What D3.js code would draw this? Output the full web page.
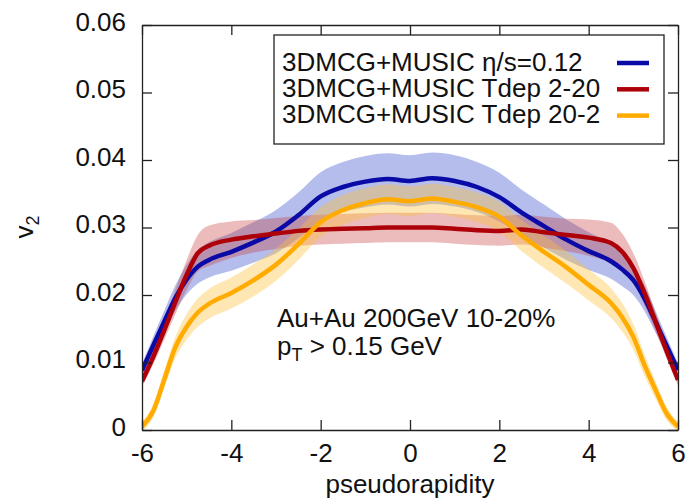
<!DOCTYPE html>
<html>
<head>
<meta charset="utf-8">
<script src="https://cdn.jsdelivr.net/npm/d3@7"></script>
<style>
  html, body { margin: 0; padding: 0; background: #fff; }
  svg { display: block; font-family: "Liberation Sans", Arial, Helvetica, sans-serif; }
</style>
</head>
<body>
<svg id="chart" width="691" height="500"></svg>
<script>
// pseudorapidity grid
const eta = [-6, -5.75, -5.5, -5.25, -5, -4.75, -4.5, -4, -3.5, -3, -2.5, -2, -1.5, -1, -0.5,
             0, 0.5, 1, 1.5, 2, 2.5, 3, 3.5, 4, 4.5, 4.75, 5, 5.25, 5.5, 5.75, 6];

// 3DMCG+MUSIC eta/s=0.12
const v2Const = [0.0088, 0.0125, 0.0161, 0.0196, 0.0223, 0.0242, 0.0252, 0.0264, 0.0278, 0.0294, 0.0318,
                 0.0346, 0.0360, 0.0368, 0.0372, 0.0369, 0.0373, 0.0369, 0.0360, 0.0345, 0.0322, 0.0302,
                 0.0282, 0.0265, 0.0250, 0.0238, 0.0222, 0.0195, 0.0160, 0.0124, 0.0089];
const errConst = [0.0010, 0.0013, 0.0016, 0.0019, 0.0022, 0.0025, 0.0026, 0.0028, 0.0030, 0.0032, 0.0034,
                  0.0036, 0.0037, 0.0038, 0.0038, 0.0038, 0.0038, 0.0038, 0.0037, 0.0036, 0.0034, 0.0032,
                  0.0030, 0.0028, 0.0026, 0.0025, 0.0022, 0.0019, 0.0016, 0.0013, 0.0010];

// 3DMCG+MUSIC Tdep 2-20
const v2Tdep220 = [0.0072, 0.0108, 0.0148, 0.0190, 0.0230, 0.0262, 0.0273, 0.0282, 0.0287, 0.0291, 0.0295,
                   0.0297, 0.0298, 0.0299, 0.0300, 0.0300, 0.0300, 0.0298, 0.0296, 0.0295, 0.0297, 0.0293,
                   0.0289, 0.0285, 0.0277, 0.0264, 0.0240, 0.0203, 0.0160, 0.0116, 0.0074];
const errTdep220 = [0.0008, 0.0011, 0.0014, 0.0018, 0.0022, 0.0027, 0.0030, 0.0027, 0.0024, 0.0023, 0.0022,
                    0.0022, 0.0022, 0.0022, 0.0022, 0.0022, 0.0022, 0.0022, 0.0022, 0.0022, 0.0022, 0.0023,
                    0.0024, 0.0027, 0.0030, 0.0027, 0.0022, 0.0018, 0.0014, 0.0011, 0.0008];

// 3DMCG+MUSIC Tdep 20-2
const v2Tdep202 = [0.0005, 0.0028, 0.0075, 0.0123, 0.0153, 0.0174, 0.0187, 0.0203, 0.0222, 0.0245, 0.0275,
                   0.0308, 0.0326, 0.0336, 0.0342, 0.0339, 0.0343, 0.0338, 0.0330, 0.0316, 0.0288, 0.0264,
                   0.0241, 0.0215, 0.0188, 0.0167, 0.0138, 0.0096, 0.0059, 0.0024, 0.0005];
const errTdep202 = [0.0007, 0.0010, 0.0013, 0.0016, 0.0019, 0.0021, 0.0022, 0.0023, 0.0024, 0.0024, 0.0023,
                    0.0022, 0.0022, 0.0022, 0.0022, 0.0022, 0.0022, 0.0022, 0.0022, 0.0022, 0.0023, 0.0024,
                    0.0024, 0.0023, 0.0022, 0.0021, 0.0019, 0.0016, 0.0013, 0.0010, 0.0007];

const xTicks = [-6, -4, -2, 0, 2, 4, 6];
const yTicks = [0, 0.01, 0.02, 0.03, 0.04, 0.05, 0.06];
const legendLabels = ["3DMCG+MUSIC \u03b7/s=0.12", "3DMCG+MUSIC Tdep 2-20", "3DMCG+MUSIC Tdep 20-2"];

const series = [
  { name: legendLabels[0], v: v2Const, e: errConst, line: "#0a0aa6", band: "#3048c8", op: 0.36 },
  { name: legendLabels[1], v: v2Tdep220, e: errTdep220, line: "#ae0008", band: "#c83a3a", op: 0.34 },
  { name: legendLabels[2], v: v2Tdep202, e: errTdep202, line: "#ffab00", band: "#ffbf3a", op: 0.38 },
];

const W = 691, H = 500;
const M = { top: 25, right: 13, bottom: 70, left: 142 };
const FS = 26;
const svg = d3.select("#chart");

const x = d3.scaleLinear().domain([-6, 6]).range([M.left, W - M.right]);
const y = d3.scaleLinear().domain([0, 0.06]).range([H - M.bottom, M.top]);

svg.append("defs").append("clipPath").attr("id", "plot")
  .append("rect").attr("x", M.left).attr("y", M.top)
  .attr("width", W - M.right - M.left).attr("height", H - M.bottom - M.top);

const plot = svg.append("g").attr("clip-path", "url(#plot)");

const area = s => d3.area()
  .x((d, i) => x(eta[i]))
  .y0((d, i) => y(s.v[i] - s.e[i]))
  .y1((d, i) => y(s.v[i] + s.e[i]))
  .curve(d3.curveMonotoneX)(eta);
const line = s => d3.line()
  .x((d, i) => x(eta[i]))
  .y((d, i) => y(s.v[i]))
  .curve(d3.curveMonotoneX)(eta);

series.forEach(s => {
  plot.append("path").attr("d", area(s)).attr("fill", s.band).attr("fill-opacity", s.op);
});
series.forEach(s => {
  plot.append("path").attr("d", line(s)).attr("fill", "none")
    .attr("stroke", s.line).attr("stroke-width", 4.5).attr("stroke-linejoin", "round");
});

// axes: inward ticks on all four sides, gnuplot style (plain hyphen minus)
const styleAxis = g => {
  g.selectAll(".domain").attr("stroke", "#222").attr("stroke-width", 1.3);
  g.selectAll(".tick line").attr("stroke", "#222").attr("stroke-width", 1.3);
  g.selectAll("text").attr("fill", "#111").attr("font-size", FS)
    .attr("font-family", "'Liberation Sans', Arial, Helvetica, sans-serif");
};

svg.append("g").attr("transform", `translate(0,${H - M.bottom})`)
  .call(d3.axisBottom(x).tickValues(xTicks).tickSizeInner(-10).tickSizeOuter(0).tickFormat(d => String(d)))
  .call(styleAxis)
  .call(g => g.selectAll("text").attr("y", 32).attr("dy", null));

svg.append("g").attr("transform", `translate(0,${M.top})`)
  .call(d3.axisTop(x).tickValues(xTicks).tickSizeInner(-10).tickSizeOuter(0).tickFormat(""))
  .call(styleAxis);

svg.append("g").attr("transform", `translate(${M.left},0)`)
  .call(d3.axisLeft(y).tickValues(yTicks).tickSizeInner(-10).tickSizeOuter(0)
    .tickFormat(d => d === 0 ? "0" : d.toFixed(2)))
  .call(styleAxis)
  .call(g => g.selectAll("text").attr("x", -16).attr("dy", null).attr("y", 5));

svg.append("g").attr("transform", `translate(${W - M.right},0)`)
  .call(d3.axisRight(y).tickValues(yTicks).tickSizeInner(-10).tickSizeOuter(0).tickFormat(""))
  .call(styleAxis);

// axis titles
svg.append("text")
  .attr("x", (M.left + W - M.right) / 2).attr("y", 493)
  .attr("text-anchor", "middle").attr("font-size", FS).attr("fill", "#111")
  .text("pseudorapidity");

const yTitle = svg.append("text")
  .attr("transform", "translate(33,227) rotate(-90)")
  .attr("text-anchor", "middle").attr("font-size", FS).attr("fill", "#111");
yTitle.append("tspan").text("v");
yTitle.append("tspan").attr("font-size", 18).attr("dy", 6).text("2");

// legend
const legend = svg.append("g");
legend.append("rect").attr("x", 274).attr("y", 35).attr("width", 390).attr("height", 109)
  .attr("fill", "#fff").attr("stroke", "#222").attr("stroke-width", 1.3);
series.forEach((s, i) => {
  const yy = 70.5 + i * 26.3;
  legend.append("text").attr("x", 282).attr("y", yy)
    .attr("font-size", FS).attr("fill", "#111").text(s.name);
  legend.append("line").attr("x1", 617).attr("x2", 649)
    .attr("y1", yy - 7.5).attr("y2", yy - 7.5)
    .attr("stroke", s.line).attr("stroke-width", 4.5);
});

// annotation
svg.append("text").attr("x", 277).attr("y", 327)
  .attr("font-size", FS).attr("fill", "#111").text("Au+Au 200GeV 10-20%");
const pt = svg.append("text").attr("x", 277).attr("y", 355)
  .attr("font-size", FS).attr("fill", "#111");
pt.append("tspan").text("p");
pt.append("tspan").attr("font-size", 18).attr("dy", 6).text("T");
pt.append("tspan").attr("dy", -6).text(" > 0.15 GeV");
</script>
</body>
</html>
